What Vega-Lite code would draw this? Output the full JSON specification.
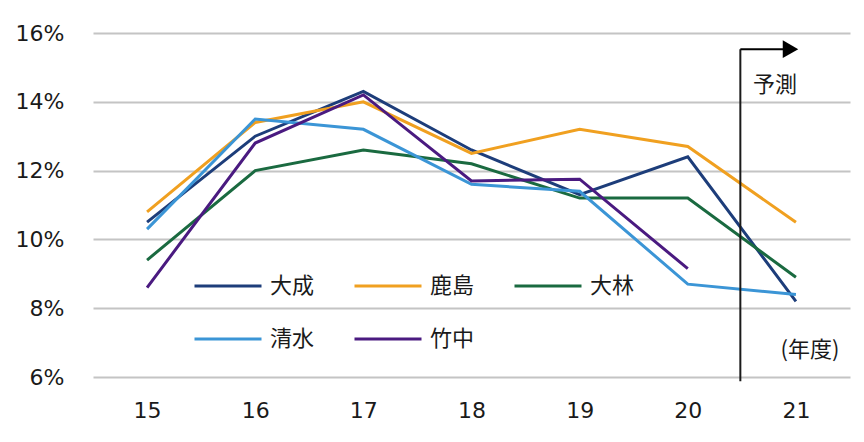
{
  "$schema": "https://vega.github.io/schema/vega-lite/v6.json",
  "width": 757,
  "height": 344,
  "autosize": {"type": "none"},
  "padding": {"left": 93, "top": 33, "right": 14, "bottom": 65},
  "background": "white",
  "config": {"view": {"stroke": null}},
  "layer": [
    {
      "data": {"values": [
        {"company": "大成", "year": 15, "value": 10.5},
        {"company": "大成", "year": 16, "value": 13.0},
        {"company": "大成", "year": 17, "value": 14.3},
        {"company": "大成", "year": 18, "value": 12.6},
        {"company": "大成", "year": 19, "value": 11.3},
        {"company": "大成", "year": 20, "value": 12.4},
        {"company": "大成", "year": 21, "value": 8.2},
        {"company": "鹿島", "year": 15, "value": 10.8},
        {"company": "鹿島", "year": 16, "value": 13.4},
        {"company": "鹿島", "year": 17, "value": 14.0},
        {"company": "鹿島", "year": 18, "value": 12.5},
        {"company": "鹿島", "year": 19, "value": 13.2},
        {"company": "鹿島", "year": 20, "value": 12.7},
        {"company": "鹿島", "year": 21, "value": 10.5},
        {"company": "大林", "year": 15, "value": 9.4},
        {"company": "大林", "year": 16, "value": 12.0},
        {"company": "大林", "year": 17, "value": 12.6},
        {"company": "大林", "year": 18, "value": 12.2},
        {"company": "大林", "year": 19, "value": 11.2},
        {"company": "大林", "year": 20, "value": 11.2},
        {"company": "大林", "year": 21, "value": 8.9},
        {"company": "清水", "year": 15, "value": 10.3},
        {"company": "清水", "year": 16, "value": 13.5},
        {"company": "清水", "year": 17, "value": 13.2},
        {"company": "清水", "year": 18, "value": 11.6},
        {"company": "清水", "year": 19, "value": 11.4},
        {"company": "清水", "year": 20, "value": 8.7},
        {"company": "清水", "year": 21, "value": 8.4},
        {"company": "竹中", "year": 15, "value": 8.6},
        {"company": "竹中", "year": 16, "value": 12.8},
        {"company": "竹中", "year": 17, "value": 14.2},
        {"company": "竹中", "year": 18, "value": 11.7},
        {"company": "竹中", "year": 19, "value": 11.75},
        {"company": "竹中", "year": 20, "value": 9.15}
      ]},
      "mark": {"type": "line", "strokeWidth": 3, "clip": false},
      "encoding": {
        "x": {
          "field": "year", "type": "quantitative",
          "scale": {"domain": [14.5, 21.5], "nice": false, "zero": false},
          "axis": {
            "title": null, "values": [15, 16, 17, 18, 19, 20, 21], "format": "d",
            "grid": false, "domain": false, "ticks": false,
            "labelFont": "DejaVu Sans", "labelFontSize": 22, "labelColor": "#1a1a1a",
            "labelPadding": 23
          }
        },
        "y": {
          "field": "value", "type": "quantitative",
          "scale": {"domain": [6, 16], "nice": false, "zero": false},
          "axis": {
            "title": null, "values": [6, 8, 10, 12, 14, 16],
            "labelExpr": "datum.value + '%'",
            "grid": true, "gridColor": "#c4c4c4", "gridWidth": 2,
            "domain": false, "ticks": false,
            "labelFont": "DejaVu Sans", "labelFontSize": 22, "labelColor": "#1a1a1a",
            "labelPadding": 29
          }
        },
        "color": {
          "field": "company", "type": "nominal",
          "scale": {
            "domain": ["大成", "鹿島", "大林", "清水", "竹中"],
            "range": ["#1d3d7a", "#f0a020", "#1a6a40", "#3b95d6", "#4a1a80"]
          },
          "legend": {
            "title": null, "orient": "none", "legendX": 100, "legendY": 218,
            "direction": "horizontal", "columns": 3,
            "symbolType": "stroke", "symbolSize": 4489, "symbolStrokeWidth": 3,
            "labelFont": "Noto Sans CJK JP", "labelFontSize": 22, "labelColor": "#1a1a1a",
            "labelOffset": 7, "columnPadding": 33, "rowPadding": 7, "padding": 0
          }
        }
      }
    },
    {
      "data": {"values": [{}]},
      "mark": {"type": "rule", "color": "#1a1a1a", "strokeWidth": 2, "clip": false},
      "encoding": {"x": {"datum": 20.486}, "y": {"datum": 15.53}, "y2": {"datum": 5.88}}
    },
    {
      "data": {"values": [{}]},
      "mark": {"type": "rule", "color": "#000000", "strokeWidth": 2, "clip": false},
      "encoding": {"x": {"datum": 20.486}, "x2": {"datum": 20.9}, "y": {"datum": 15.53}}
    },
    {
      "data": {"values": [{}]},
      "mark": {"type": "point", "shape": "triangle-right", "filled": true, "color": "#000000", "opacity": 1, "size": 320, "clip": false},
      "encoding": {"x": {"datum": 20.95}, "y": {"datum": 15.53}}
    },
    {
      "data": {"values": [{}]},
      "mark": {"type": "text", "text": "予測", "font": "Noto Sans CJK JP", "fontSize": 22, "fontWeight": "normal", "fill": "#1a1a1a", "align": "center", "baseline": "middle"},
      "encoding": {"x": {"datum": 20.807}, "y": {"datum": 14.5}}
    },
    {
      "data": {"values": [{}]},
      "mark": {"type": "text", "text": "(年度)", "font": "Noto Sans CJK JP", "fontSize": 22, "fontWeight": "normal", "fill": "#1a1a1a", "align": "center", "baseline": "middle"},
      "encoding": {"x": {"datum": 21.13}, "y": {"datum": 6.79}}
    }
  ]
}
